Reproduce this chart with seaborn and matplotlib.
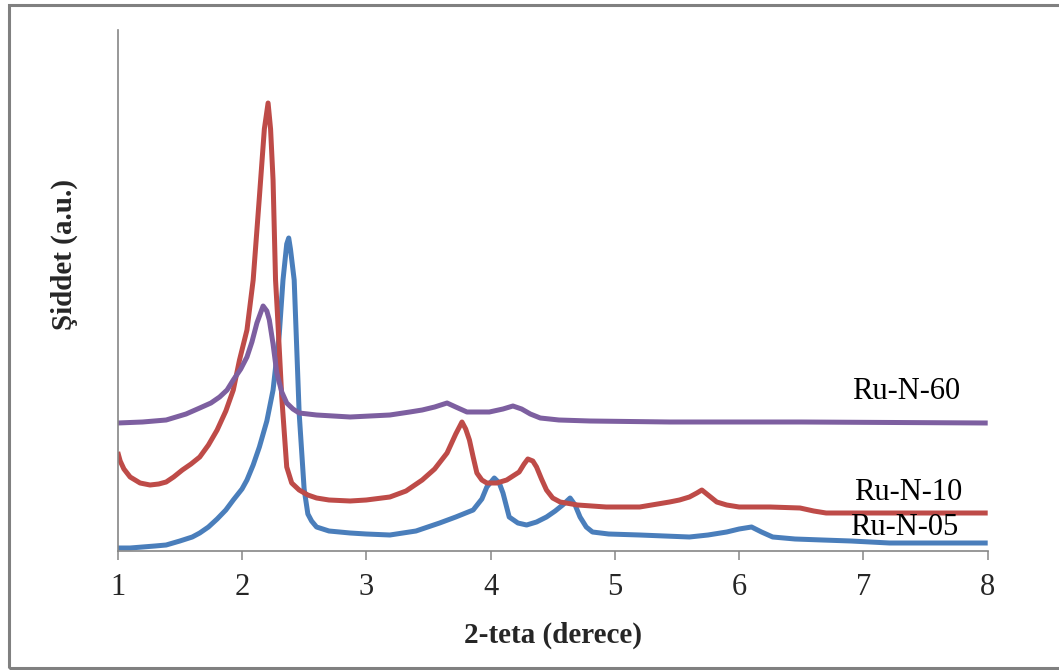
import matplotlib
matplotlib.use("Agg")
import matplotlib.pyplot as plt
import matplotlib.patches as mpatches
import seaborn as sns
import pandas as pd

# ---- data (2-theta in degrees, intensity in arbitrary units) ----
x_05 = [1.0, 1.1, 1.2, 1.3, 1.39, 1.5, 1.6, 1.66, 1.73, 1.8, 1.87, 1.93, 2.0, 2.04,
        2.09, 2.14, 2.2, 2.25, 2.30, 2.33, 2.36, 2.376, 2.39, 2.42, 2.46, 2.50, 2.53,
        2.56, 2.60, 2.70, 2.87, 3.0, 3.19, 3.4, 3.59, 3.72, 3.86, 3.93, 3.97, 4.03,
        4.07, 4.10, 4.15, 4.22, 4.29, 4.37, 4.45, 4.52, 4.58, 4.64, 4.68, 4.72, 4.77,
        4.82, 4.95, 5.2, 5.4, 5.6, 5.75, 5.9, 6.0, 6.1, 6.18, 6.27, 6.45, 6.67, 6.9,
        7.21, 7.6, 8.0]
y_05 = [1, 1, 2, 3, 4, 8, 12, 16, 22, 30, 39, 49, 60, 69,
        84, 102, 128, 159, 215, 269, 305, 311, 300, 269, 136, 60, 35,
        28, 22, 18, 16, 15, 14, 18, 26, 32, 39, 50, 62, 71,
        66, 56, 32, 26, 24, 27, 32, 38, 44, 51, 44, 32, 22,
        17, 15, 14, 13, 12, 14, 17, 20, 22, 17, 12, 10, 9, 8,
        6, 6, 6]

x_10 = [1.0, 1.02, 1.05, 1.1, 1.18, 1.26, 1.33, 1.39, 1.45, 1.52, 1.59, 1.66, 1.73,
        1.80, 1.87, 1.93, 1.98, 2.04, 2.09, 2.14, 2.18, 2.21, 2.23, 2.25, 2.27, 2.285,
        2.32, 2.36, 2.40, 2.46, 2.53, 2.60, 2.7, 2.87, 3.0, 3.19, 3.32, 3.45, 3.55,
        3.65, 3.72, 3.77, 3.80, 3.83, 3.86, 3.89, 3.93, 3.97, 4.05, 4.13, 4.23, 4.27,
        4.30, 4.34, 4.37, 4.41, 4.45, 4.50, 4.56, 4.7, 4.93, 5.2, 5.44, 5.52, 5.60,
        5.66, 5.70, 5.76, 5.82, 5.9, 6.0, 6.25, 6.49, 6.6, 6.7, 7.3, 8.0]
y_10 = [97, 88, 80, 72, 66, 64, 65, 67, 72, 79, 85, 92, 104,
        119, 138, 159, 189, 219, 269, 352, 420, 446, 420, 369, 269, 236,
        152, 82, 66, 59, 54, 51, 49, 48, 49, 52, 58, 69, 80,
        96, 115, 127, 120, 109, 92, 76, 69, 66, 66, 69, 77, 85,
        90, 88, 82, 70, 59, 51, 47, 44, 42, 42, 47, 49, 52,
        56, 59, 53, 47, 44, 42, 42, 41, 38, 36, 36, 36]

x_60 = [1.0, 1.2, 1.39, 1.55, 1.66, 1.75, 1.82, 1.88, 1.93, 1.99, 2.04, 2.08, 2.12,
        2.17, 2.20, 2.22, 2.25, 2.28, 2.32, 2.36, 2.41, 2.46, 2.6, 2.87, 3.19, 3.35,
        3.45, 3.55, 3.65, 3.72, 3.81, 3.99, 4.1, 4.18, 4.25, 4.32, 4.40, 4.55, 4.80,
        5.44, 6.5, 8.0]
y_60 = [126, 127, 129, 135, 141, 146, 152, 159, 169, 180, 192, 207, 226,
        243, 238, 229, 205, 176, 157, 146, 140, 136, 134, 132, 134, 137,
        139, 142, 146, 142, 137, 137, 140, 143, 140, 135, 131, 129, 128,
        127, 127, 126]

series_names = ["Ru-N-05", "Ru-N-10", "Ru-N-60"]
series_colors = ["#4A7EBB", "#BE4B48", "#7D5FA0"]
label_x = [7.33, 7.36, 7.34]
label_y = [14, 49, 150]
x_ticks = [1, 2, 3, 4, 5, 6, 7, 8]

sns.set_style("white")
plt.rcParams["font.family"] = ["Liberation Serif", "DejaVu Serif"]

fig = plt.figure(figsize=(10.59, 6.70), dpi=100)
ax = fig.add_axes([117.7 / 1059, 1 - 551 / 670, 870 / 1059, 521 / 670])

data = [(x_05, y_05), (x_10, y_10), (x_60, y_60)]
for (xs, ys), name, col in zip(data, series_names, series_colors):
    df = pd.DataFrame({"x": xs, "y": ys})
    sns.lineplot(data=df, x="x", y="y", color=col, linewidth=3.6, ax=ax,
                 estimator=None, sort=False, solid_joinstyle="round",
                 solid_capstyle="butt")

for name, lx, ly in zip(series_names, label_x, label_y):
    ax.text(lx, ly, name, ha="center", va="baseline", fontsize=22, color="black")

ax.set_xlim(1, 8)
ax.set_ylim(-2, 519)
ax.set_xticks(x_ticks)
ax.set_xticklabels([str(t) for t in x_ticks])
ax.set_yticks([])
ax.tick_params(axis="x", direction="out", length=6.5, width=1.1, color="#868686",
               labelsize=22, pad=9, bottom=True)
for side in ["top", "right"]:
    ax.spines[side].set_visible(False)
for side in ["left", "bottom"]:
    ax.spines[side].set_color("#868686")
    ax.spines[side].set_linewidth(1.2)

ax.set_xlabel("2-teta (derece)", fontsize=21, fontweight="bold")
ax.set_ylabel("Şiddet (a.u.)", fontsize=21, fontweight="bold")
ax.xaxis.set_label_coords(0.5, (551 - 643) / 521)
ax.xaxis.label.set_verticalalignment("baseline")
ax.yaxis.set_label_coords((64 - 117.7) / 870, (551 - 255) / 521)
ax.yaxis.label.set_verticalalignment("center")

# outer chart frame
fig.patches.append(mpatches.Rectangle((8.5 / 1059, 1 - 667.5 / 670), 1.1,
                                      (667.5 - 4.5) / 670, transform=fig.transFigure,
                                      fill=False, edgecolor="#808080", linewidth=2.2,
                                      zorder=10))

fig.savefig("out.png", dpi=100)
